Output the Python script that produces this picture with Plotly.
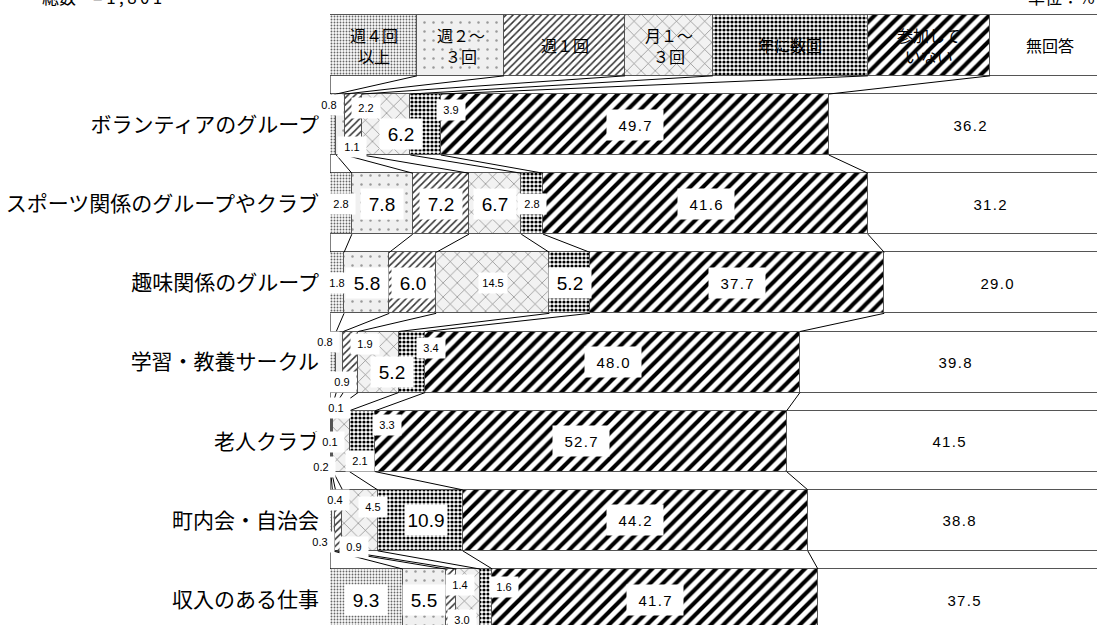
import plotly.graph_objects as go

# data: participation frequency by group type (%)
CATEGORIES = ["ボランティアのグループ", "スポーツ関係のグループやクラブ", "趣味関係のグループ",
              "学習・教養サークル", "老人クラブ", "町内会・自治会", "収入のある仕事"]
SERIES = ["週４回<br>以上", "週２～<br>３回", "週１回", "月１～<br>３回", "年に数回", "参加して<br>いない", "無回答"]
WEEK4 = [0.8, 2.8, 1.8, 0.8, 0.1, 0.3, 9.3]
WEEK23 = [1.1, 7.8, 5.8, 0.9, 0.1, 0.4, 5.5]
WEEK1 = [2.2, 7.2, 6.0, 1.9, 0.2, 0.9, 1.4]
MONTH13 = [6.2, 6.7, 14.5, 5.2, 2.1, 4.5, 3.0]
YEARLY = [3.9, 2.8, 5.2, 3.4, 3.3, 10.9, 1.6]
NOT_JOINED = [49.7, 41.6, 37.7, 48.0, 52.7, 44.2, 41.7]
NO_ANSWER = [36.2, 31.2, 29.0, 39.8, 41.5, 38.8, 37.5]
VALUES = [WEEK4, WEEK23, WEEK1, MONTH13, YEARLY, NOT_JOINED, NO_ANSWER]
TOTAL_N = "1,801"

# layout constants
LEGEND_WIDTHS = [11.15, 11.15, 15.5, 11.25, 19.85, 15.65, 15.45]
BAR_W = 0.77
FONT = "Liberation Sans, Arial, Noto Sans CJK JP"
JP_FONT = "Noto Sans CJK JP"

PATTERNS = [
    dict(shape=".", size=3, solidity=0.3, fgcolor="#666", bgcolor="#fafafa", fgopacity=1),
    dict(shape=".", size=9, solidity=0.06, fgcolor="#999", bgcolor="#f0f0f0", fgopacity=1),
    dict(shape="/", size=5, solidity=0.3, fgcolor="#333", bgcolor="white", fgopacity=1),
    dict(shape="x", size=10, solidity=0.12, fgcolor="#777", bgcolor="#f2f2f2", fgopacity=1),
    dict(shape=".", size=4, solidity=0.5, fgcolor="black", bgcolor="white", fgopacity=1),
    dict(shape="/", size=9, solidity=0.45, fgcolor="black", bgcolor="white", fgopacity=1),
    dict(shape="", fgcolor="white", bgcolor="white"),
]

LARGE = {(0, 3), (1, 1), (1, 2), (1, 3), (2, 1), (2, 2), (2, 4), (3, 3), (5, 4), (6, 0), (6, 1)}
# pixel nudges for labels of narrow segments
NUDGE = {
    (0, 0): (-4, 20), (0, 1): (11, -22), (0, 2): (13, 17), (0, 3): (15, -9), (0, 4): (25, 15),
    (3, 0): (-8, 20), (3, 1): (2, -20), (3, 2): (14, 18), (3, 3): (14, -10), (3, 4): (19, 14),
    (4, 0): (6, 33), (4, 1): (-1, -1), (4, 2): (-11, -26), (4, 3): (19, -20), (4, 4): (25, 16),
    (5, 0): (-11, -22), (5, 1): (1, 20), (5, 2): (15, -27), (5, 3): (13, 13), (5, 4): (6, 0),
    (6, 2): (9, 15), (6, 3): (-6, -20), (6, 4): (18, 13),
}


def cumulative(vals):
    out = [0.0]
    for v in vals:
        out.append(out[-1] + v)
    return out


def spaced(s, sep="\u200a"):
    # the source spreads the digits of numbers a little
    return sep.join(s)


def build_figure():
    rows = [-i for i in range(len(CATEGORIES))]
    fig = go.Figure()
    line = dict(color="#555", width=1)

    for j, name in enumerate(SERIES):
        fig.add_trace(go.Bar(x=VALUES[j], y=rows, orientation="h", width=BAR_W,
                             marker=dict(color="white", pattern=PATTERNS[j], line=line),
                             name=name, showlegend=False))
        # legend box
        fig.add_trace(go.Bar(x=[LEGEND_WIDTHS[j]], y=[1], orientation="h", width=BAR_W,
                             marker=dict(color="white", pattern=PATTERNS[j], line=line),
                             showlegend=False, hoverinfo="skip"))

    # connecting lines between bars
    row_cums = [cumulative([VALUES[j][i] for j in range(len(SERIES))]) for i in range(len(CATEGORIES))]
    legend_cum = cumulative(LEGEND_WIDTHS)
    all_cums = [legend_cum] + row_cums
    all_y = [1] + rows
    lx, ly = [], []
    for r in range(len(all_cums) - 1):
        for k in range(0, len(SERIES)):
            lx += [all_cums[r][k], all_cums[r + 1][k], None]
            ly += [all_y[r] - BAR_W / 2, all_y[r + 1] + BAR_W / 2, None]
    fig.add_trace(go.Scatter(x=lx, y=ly, mode="lines", line=dict(color="black", width=1),
                             showlegend=False, hoverinfo="skip"))

    # value labels
    for i, cum in enumerate(row_cums):
        for j in range(len(SERIES)):
            v = VALUES[j][i]
            text = f"{v:.1f}"
            if j >= 5:
                size, w, h = 15, 54, 28
                text = spaced(text)
            elif (i, j) in LARGE:
                size, w, h = 19, 40, 28
            else:
                size, w, h = 11, 26, 18
            dx, dy = NUDGE.get((i, j), (0, 0))
            fig.add_annotation(x=cum[j] + v / 2, y=rows[i], text=text, showarrow=False,
                               xshift=dx, yshift=dy, width=w, height=h,
                               bgcolor="white" if j < 6 else "rgba(0,0,0,0)",
                               font=dict(family=FONT, size=size, color="black"))

    # legend labels
    for j, name in enumerate(SERIES):
        fig.add_annotation(x=legend_cum[j] + LEGEND_WIDTHS[j] / 2, y=1, text=name, showarrow=False,
                           font=dict(family=JP_FONT, size=16, color="black"))

    fig.add_annotation(xref="paper", yref="paper", x=-0.378, y=1.006, xanchor="left", yanchor="middle",
                       text="総数　= " + spaced(TOTAL_N, "\u2009"), showarrow=False,
                       font=dict(family=JP_FONT, size=17, color="black"))
    fig.add_annotation(xref="paper", yref="paper", x=1.0, y=1.006, xanchor="right", yanchor="middle",
                       text="単位：%", showarrow=False,
                       font=dict(family=JP_FONT, size=17, color="black"))

    fig.update_layout(
        width=1097, height=625, barmode="stack", bargap=0,
        margin=dict(l=330, r=0, t=0, b=0, autoexpand=False),
        paper_bgcolor="white", plot_bgcolor="white",
        xaxis=dict(range=[0, 98.25], visible=False, fixedrange=True, automargin=False),
        yaxis=dict(range=[-6.322, 1.573], tickvals=rows, ticktext=CATEGORIES, showgrid=False,
                   zeroline=False, showline=False, ticks="", ticklabelstandoff=10, automargin=False,
                   fixedrange=True, tickfont=dict(family=JP_FONT, size=21, color="black")),
    )
    return fig


def main():
    fig = build_figure()
    # drop the page's default body margin so the figure sits at the window corner
    fig.write_html("out.html", config={"displayModeBar": False},
                   post_script="document.body.style.margin='0';")


if __name__ == "__main__":
    main()
